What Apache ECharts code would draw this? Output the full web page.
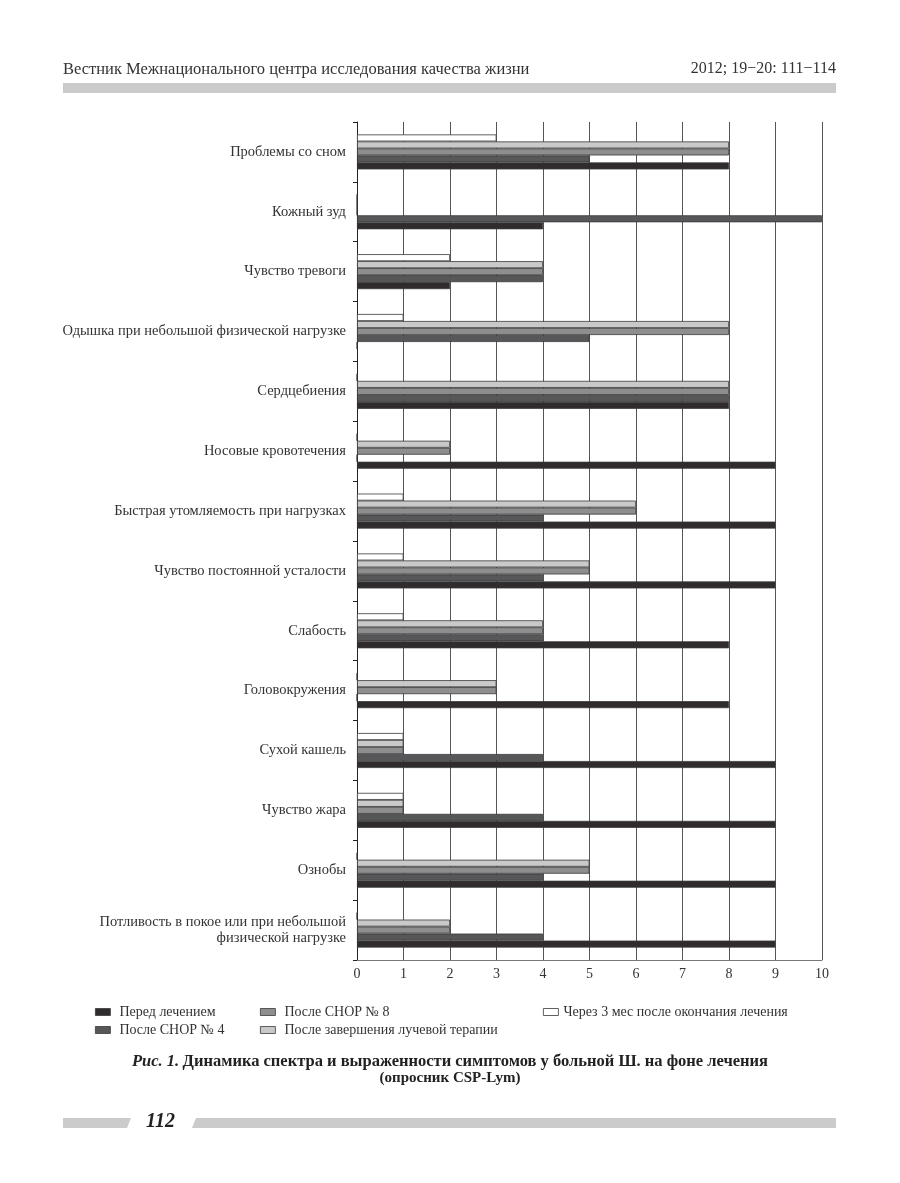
<!DOCTYPE html>
<html>
<head>
<meta charset="utf-8">
<script src="https://cdn.jsdelivr.net/npm/echarts@6/dist/echarts.min.js"></script>
<style>
html,body{margin:0;padding:0;background:#fff;}
#chart{width:900px;height:1183px;}
</style>
</head>
<body>
<div id="chart"></div>
<script>
// Categories, top to bottom
const categories = [
  'Проблемы со сном',
  'Кожный зуд',
  'Чувство тревоги',
  'Одышка при небольшой физической нагрузке',
  'Сердцебиения',
  'Носовые кровотечения',
  'Быстрая утомляемость при нагрузках',
  'Чувство постоянной усталости',
  'Слабость',
  'Головокружения',
  'Сухой кашель',
  'Чувство жара',
  'Ознобы',
  'Потливость в покое или при небольшой\nфизической нагрузке'
];
const seriesNames = [
  'Перед лечением',
  'После CHOP № 4',
  'После CHOP № 8',
  'После завершения лучевой терапии',
  'Через 3 мес после окончания лечения'
];
const beforeTreatment = [8, 4, 2, 0, 8, 9, 9, 9, 8, 8, 9, 9, 9, 9];
const afterChop4      = [5, 10, 4, 5, 8, 0, 4, 4, 4, 0, 4, 4, 4, 4];
const afterChop8      = [8, 0, 4, 8, 8, 2, 6, 5, 4, 3, 1, 1, 5, 2];
const afterRadiation  = [8, 0, 4, 8, 8, 2, 6, 5, 4, 3, 1, 1, 5, 2];
const after3Months    = [3, 0, 2, 1, 0, 0, 1, 1, 1, 0, 1, 1, 0, 0];
const xTicks = [0, 1, 2, 3, 4, 5, 6, 7, 8, 9, 10];

const seriesData = [beforeTreatment, afterChop4, afterChop8, afterRadiation, after3Months];
const colors = ['#302c2d', '#57575a', '#8e8e8e', '#c9c9c9', '#ffffff'];
const FONT = '"Liberation Serif", "DejaVu Serif", serif';

const chart = echarts.init(document.getElementById('chart'), null, {renderer: 'canvas'});

// first series is drawn at the top of each band: white first, black last
const order = [4, 3, 2, 1, 0];
const series = order.map(i => ({
  name: seriesNames[i],
  type: 'bar',
  data: seriesData[i],
  barWidth: 7,
  barGap: '0%',
  itemStyle: {color: colors[i], borderColor: '#3a3a3a', borderWidth: 0.8},
  emphasis: {disabled: true},
  animation: false
}));

function legendAt(left, names, textPad) {
  return {
    orient: 'vertical',
    icon: 'rect',
    itemWidth: 15,
    itemHeight: 7,
    itemGap: 4,
    top: 1000,
    left: left,
    data: names,
    selectedMode: false,
    textStyle: {fontFamily: FONT, fontSize: 14, color: '#333', padding: [0, 0, 0, textPad]},
    itemStyle: {borderColor: '#3a3a3a', borderWidth: 0.8}
  };
}

const option = {
  animation: false,
  backgroundColor: '#fff',
  color: colors,
  grid: {left: 357, right: 78, top: 122, bottom: 223, containLabel: false},
  legend: [
    legendAt(90, [seriesNames[0], seriesNames[1]], 4),
    legendAt(255, [seriesNames[2], seriesNames[3]], 4),
    legendAt(538, [seriesNames[4]], 0)
  ],
  xAxis: {
    type: 'value',
    min: 0, max: 10, interval: 1,
    axisLine: {show: true, lineStyle: {color: '#777', width: 1}},
    axisTick: {show: false},
    axisLabel: {fontFamily: FONT, fontSize: 14, color: '#333', margin: 7,
      formatter: v => xTicks.includes(v) ? String(v) : ''},
    splitLine: {show: true, lineStyle: {color: '#555', width: 1}}
  },
  yAxis: {
    type: 'category',
    inverse: true,
    data: categories,
    axisLine: {show: true, lineStyle: {color: '#222', width: 1}},
    axisTick: {show: true, length: 4, lineStyle: {color: '#222'}},
    axisLabel: {fontFamily: FONT, fontSize: 14.5, color: '#333', margin: 11, align: 'right', lineHeight: 16}
  },
  series: series,
  graphic: [
    {type: 'text', left: 63, top: 61, style: {text: 'Вестник Межнационального центра исследования качества жизни', font: '16.5px ' + FONT, fill: '#333'}},
    {type: 'text', right: 64, top: 61, style: {text: '2012; 19−20: 111−114', font: '16px ' + FONT, fill: '#333'}},
    {type: 'rect', shape: {x: 63, y: 83, width: 773, height: 10}, style: {fill: '#cbcbcb'}},
    {type: 'text', left: 'center', top: 1053, style: {
      rich: {
        bi: {font: 'italic bold 16.5px ' + FONT, fill: '#222'},
        b: {font: 'bold 16.5px ' + FONT, fill: '#222'}
      },
      text: '{bi|Рис. 1.} {b|Динамика спектра и выраженности симптомов у больной Ш. на фоне лечения}',
      align: 'center'
    }},
    {type: 'text', left: 'center', top: 1071, style: {text: '(опросник CSP-Lym)', font: 'bold 15px ' + FONT, fill: '#222', align: 'center'}},
    {type: 'polygon', shape: {points: [[63, 1118], [131, 1118], [127, 1128], [63, 1128]]}, style: {fill: '#cbcbcb'}},
    {type: 'text', left: 146, top: 1112, style: {text: '112', font: 'italic bold 20px ' + FONT, fill: '#222'}},
    {type: 'polygon', shape: {points: [[196, 1118], [836, 1118], [836, 1128], [192, 1128]]}, style: {fill: '#cbcbcb'}}
  ]
};
chart.setOption(option);
</script>
</body>
</html>
